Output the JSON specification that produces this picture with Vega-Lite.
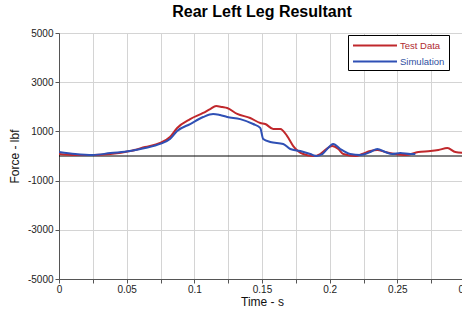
{
  "$schema": "https://vega.github.io/schema/vega-lite/v6.json",
  "autosize": "none",
  "padding": {"left": 59, "top": 33, "right": 0, "bottom": 30},
  "width": 406,
  "height": 246,
  "background": "white",
  "title": {"text": "Rear Left Leg Resultant", "font": "Liberation Sans", "fontSize": 16, "fontWeight": "bold", "color": "#000000", "anchor": "middle", "offset": 8},
  "config": {
    "view": {"stroke": "#555555", "strokeWidth": 1},
    "axis": {"labelFont": "Liberation Sans", "titleFont": "Liberation Sans", "labelFontSize": 10, "titleFontSize": 12, "titleFontWeight": "normal", "labelColor": "#222222", "titleColor": "#111111", "gridColor": "#d4d4d4", "domainColor": "#555555", "tickColor": "#555555"}
  },
  "datasets": {
    "curves": [
      {"t": 0, "f": 80, "s": "Test Data"},
      {"t": 0.012, "f": 40, "s": "Test Data"},
      {"t": 0.025, "f": 40, "s": "Test Data"},
      {"t": 0.038, "f": 80, "s": "Test Data"},
      {"t": 0.0525, "f": 200, "s": "Test Data"},
      {"t": 0.0636, "f": 365, "s": "Test Data"},
      {"t": 0.0747, "f": 530, "s": "Test Data"},
      {"t": 0.082, "f": 770, "s": "Test Data"},
      {"t": 0.0873, "f": 1140, "s": "Test Data"},
      {"t": 0.0969, "f": 1500, "s": "Test Data"},
      {"t": 0.1065, "f": 1750, "s": "Test Data"},
      {"t": 0.1117, "f": 1910, "s": "Test Data"},
      {"t": 0.1161, "f": 2030, "s": "Test Data"},
      {"t": 0.1206, "f": 1990, "s": "Test Data"},
      {"t": 0.1243, "f": 1950, "s": "Test Data"},
      {"t": 0.1317, "f": 1710, "s": "Test Data"},
      {"t": 0.1413, "f": 1545, "s": "Test Data"},
      {"t": 0.1487, "f": 1340, "s": "Test Data"},
      {"t": 0.1524, "f": 1300, "s": "Test Data"},
      {"t": 0.1583, "f": 1100, "s": "Test Data"},
      {"t": 0.1635, "f": 1100, "s": "Test Data"},
      {"t": 0.1686, "f": 810, "s": "Test Data"},
      {"t": 0.1731, "f": 405, "s": "Test Data"},
      {"t": 0.1805, "f": 80, "s": "Test Data"},
      {"t": 0.1879, "f": 0, "s": "Test Data"},
      {"t": 0.193, "f": 80, "s": "Test Data"},
      {"t": 0.1975, "f": 285, "s": "Test Data"},
      {"t": 0.2019, "f": 405, "s": "Test Data"},
      {"t": 0.2064, "f": 285, "s": "Test Data"},
      {"t": 0.2101, "f": 80, "s": "Test Data"},
      {"t": 0.2189, "f": 0, "s": "Test Data"},
      {"t": 0.2241, "f": 80, "s": "Test Data"},
      {"t": 0.23, "f": 200, "s": "Test Data"},
      {"t": 0.2352, "f": 245, "s": "Test Data"},
      {"t": 0.2411, "f": 160, "s": "Test Data"},
      {"t": 0.2485, "f": 80, "s": "Test Data"},
      {"t": 0.2559, "f": 40, "s": "Test Data"},
      {"t": 0.2655, "f": 160, "s": "Test Data"},
      {"t": 0.2744, "f": 200, "s": "Test Data"},
      {"t": 0.2803, "f": 245, "s": "Test Data"},
      {"t": 0.287, "f": 325, "s": "Test Data"},
      {"t": 0.2929, "f": 160, "s": "Test Data"},
      {"t": 0.3, "f": 120, "s": "Test Data"},
      {"t": 0, "f": 160, "s": "Simulation"},
      {"t": 0.012, "f": 80, "s": "Simulation"},
      {"t": 0.025, "f": 40, "s": "Simulation"},
      {"t": 0.038, "f": 120, "s": "Simulation"},
      {"t": 0.0525, "f": 200, "s": "Simulation"},
      {"t": 0.0636, "f": 325, "s": "Simulation"},
      {"t": 0.0747, "f": 490, "s": "Simulation"},
      {"t": 0.082, "f": 690, "s": "Simulation"},
      {"t": 0.0873, "f": 1015, "s": "Simulation"},
      {"t": 0.0969, "f": 1300, "s": "Simulation"},
      {"t": 0.1065, "f": 1585, "s": "Simulation"},
      {"t": 0.1139, "f": 1710, "s": "Simulation"},
      {"t": 0.119, "f": 1665, "s": "Simulation"},
      {"t": 0.1243, "f": 1585, "s": "Simulation"},
      {"t": 0.1339, "f": 1500, "s": "Simulation"},
      {"t": 0.1435, "f": 1300, "s": "Simulation"},
      {"t": 0.1487, "f": 1140, "s": "Simulation"},
      {"t": 0.1509, "f": 690, "s": "Simulation"},
      {"t": 0.1561, "f": 570, "s": "Simulation"},
      {"t": 0.1657, "f": 490, "s": "Simulation"},
      {"t": 0.1709, "f": 285, "s": "Simulation"},
      {"t": 0.1783, "f": 200, "s": "Simulation"},
      {"t": 0.1857, "f": 80, "s": "Simulation"},
      {"t": 0.1901, "f": 0, "s": "Simulation"},
      {"t": 0.1945, "f": 80, "s": "Simulation"},
      {"t": 0.2027, "f": 490, "s": "Simulation"},
      {"t": 0.2078, "f": 285, "s": "Simulation"},
      {"t": 0.2152, "f": 80, "s": "Simulation"},
      {"t": 0.2226, "f": 40, "s": "Simulation"},
      {"t": 0.23, "f": 160, "s": "Simulation"},
      {"t": 0.2352, "f": 285, "s": "Simulation"},
      {"t": 0.2411, "f": 160, "s": "Simulation"},
      {"t": 0.2463, "f": 80, "s": "Simulation"},
      {"t": 0.2522, "f": 120, "s": "Simulation"},
      {"t": 0.2596, "f": 80, "s": "Simulation"},
      {"t": 0.2633, "f": 80, "s": "Simulation"}
    ],
    "zero": [{"f": 0}]
  },
  "layer": [
    {
      "data": {"name": "zero"},
      "mark": {"type": "rule", "color": "#000000", "strokeWidth": 1},
      "encoding": {"y": {"field": "f", "type": "quantitative", "scale": {"domain": [-5000, 5000]}}}
    },
    {
      "data": {"name": "curves"},
      "mark": {"type": "line", "strokeWidth": 2, "interpolate": "monotone", "clip": true},
      "encoding": {
        "x": {
          "field": "t", "type": "quantitative", "title": "Time - s",
          "scale": {"domain": [0, 0.3], "nice": false, "zero": false},
          "axis": {"values": [0, 0.025, 0.05, 0.075, 0.1, 0.125, 0.15, 0.175, 0.2, 0.225, 0.25, 0.275, 0.3],
                   "labelExpr": "round(datum.value*1000) % 50 == 0 ? format(datum.value, '~g') : ''",
                   "tickSize": 4, "labelPadding": 1, "titlePadding": 2, "labelFlush": false}
        },
        "y": {
          "field": "f", "type": "quantitative", "title": "Force - lbf",
          "scale": {"domain": [-5000, 5000], "nice": false},
          "axis": {"values": [-5000, -4000, -3000, -2000, -1000, 0, 1000, 2000, 3000, 4000, 5000],
                   "labelExpr": "abs(round(datum.value/1000)) % 2 == 1 ? ('' + datum.value) : ''",
                   "tickSize": 4, "labelPadding": 2, "titlePadding": 6, "labelFlush": false}
        },
        "color": {
          "field": "s", "type": "nominal",
          "scale": {"domain": ["Test Data", "Simulation"], "range": ["#c0282c", "#2f50b5"]},
          "legend": {
            "orient": "none", "legendX": 289, "legendY": 2, "title": null,
            "symbolType": "M-1,0H7", "symbolSize": 121, "symbolStrokeWidth": 2,
            "labelFont": "Liberation Sans", "labelFontSize": 9.5, "labelOffset": 35,
            "strokeColor": "#000000", "fillColor": "#ffffff", "padding": 4, "rowPadding": 5,
            "encode": {"labels": {"update": {"fill": {"signal": "datum.value === 'Test Data' ? '#b02a30' : '#2f4f9f'"}}}}
          }
        }
      }
    }
  ]
}
